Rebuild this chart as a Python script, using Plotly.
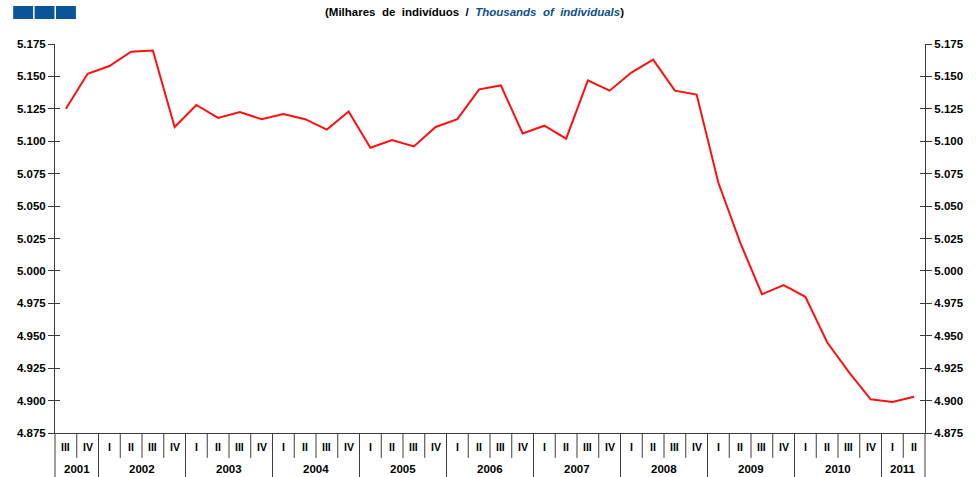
import plotly.graph_objects as go

# quarters from 2001 III to 2011 II
quarters = ["III", "IV",
            "I", "II", "III", "IV",
            "I", "II", "III", "IV",
            "I", "II", "III", "IV",
            "I", "II", "III", "IV",
            "I", "II", "III", "IV",
            "I", "II", "III", "IV",
            "I", "II", "III", "IV",
            "I", "II", "III", "IV",
            "I", "II", "III", "IV",
            "I", "II"]
years = ["2001", "2002", "2003", "2004", "2005", "2006",
         "2007", "2008", "2009", "2010", "2011"]

employed = [5.125, 5.152,
            5.158, 5.169, 5.170, 5.111,
            5.128, 5.118, 5.1225, 5.117,
            5.121, 5.117, 5.109, 5.123,
            5.095, 5.101, 5.096, 5.111,
            5.117, 5.140, 5.143, 5.106,
            5.112, 5.102, 5.147, 5.139,
            5.153, 5.163, 5.139, 5.136,
            5.068, 5.022, 4.982, 4.989,
            4.980, 4.945, 4.922, 4.901,
            4.899, 4.903]

y_ticks = [4.875, 4.900, 4.925, 4.950, 4.975, 5.000, 5.025,
           5.050, 5.075, 5.100, 5.125, 5.150, 5.175]

x_idx = list(range(len(quarters)))

# which year each point belongs to
year_of = []
yi = 0
for i, q in enumerate(quarters):
    if q == "I" and i > 0:
        yi += 1
    year_of.append(years[yi])

axis_col = "#3c3c3c"
font_b = dict(family="Arial, Liberation Sans", size=11.5, color="black", weight="bold")

fig = go.Figure()
fig.add_trace(go.Scatter(x=x_idx, y=employed, mode="lines",
                         line=dict(color="#ff1010", width=2),
                         showlegend=False, hoverinfo="skip"))
# ghost trace so right axis gets drawn
fig.add_trace(go.Scatter(x=x_idx, y=employed, yaxis="y2", mode="lines",
                         line=dict(width=0), opacity=0,
                         showlegend=False, hoverinfo="skip"))

yax = dict(range=[y_ticks[0], y_ticks[-1]], tickvals=y_ticks,
           tickformat=".3f", showgrid=False, zeroline=False,
           showline=True, linecolor=axis_col, linewidth=1,
           ticks="outside", ticklen=6, tickcolor=axis_col,
           tickfont=font_b)

fig.update_layout(
    width=976, height=477,
    margin=dict(l=55, r=47, t=44, b=44),
    paper_bgcolor="white", plot_bgcolor="white",
    xaxis=dict(range=[-0.5, len(quarters) - 0.5], showticklabels=False,
               showgrid=False, zeroline=False, ticks="",
               showline=True, linecolor=axis_col, linewidth=1),
    yaxis=dict(**yax, side="left"),
    yaxis2=dict(**yax, side="right", overlaying="y", matches="y"),
    yaxis3=dict(range=[y_ticks[0], y_ticks[-1]], tickvals=y_ticks,
                showticklabels=False, showgrid=False, zeroline=False,
                showline=False, ticks="inside", ticklen=5,
                tickcolor=axis_col, overlaying="y", side="left"),
    yaxis4=dict(range=[y_ticks[0], y_ticks[-1]], tickvals=y_ticks,
                showticklabels=False, showgrid=False, zeroline=False,
                showline=False, ticks="inside", ticklen=5,
                tickcolor=axis_col, overlaying="y", side="right"),
)
fig.add_trace(go.Scatter(x=[0], y=[employed[0]], yaxis="y3", opacity=0,
                         showlegend=False, hoverinfo="skip"))
fig.add_trace(go.Scatter(x=[0], y=[employed[0]], yaxis="y4", opacity=0,
                         showlegend=False, hoverinfo="skip"))

# quarter labels and separators
for i, q in enumerate(quarters):
    fig.add_annotation(x=i, y=-0.036, xref="x", yref="paper", text=q,
                       showarrow=False, font=dict(font_b, size=10.5),
                       yanchor="middle")
    if i > 0:
        is_year = q == "I"
        fig.add_shape(type="line", xref="x", yref="paper",
                      x0=i - 0.5, x1=i - 0.5, y0=0,
                      y1=-0.12 if is_year else -0.064,
                      line=dict(color=axis_col, width=1))

# outer edges down to bottom
for xe in [0, 1]:
    fig.add_shape(type="line", xref="paper", yref="paper",
                  x0=xe, x1=xe, y0=0, y1=-0.12,
                  line=dict(color=axis_col, width=1))

# year labels centred under their quarters
for yr in years:
    pos = [i for i, y in enumerate(year_of) if y == yr]
    fig.add_annotation(x=(pos[0] + pos[-1]) / 2, y=-0.092, xref="x",
                       yref="paper", text=yr, showarrow=False,
                       font=font_b, yanchor="middle")

# title
fig.add_annotation(
    x=(476 - 55) / 874, y=(433 - 12) / 389, xref="paper", yref="paper",
    text="(Milhares  de  indivíduos  /  <i><span style='color:#0b4f8c'>"
         "Thousands  of  individuals</span></i>)",
    showarrow=False, font=dict(family="Arial, Liberation Sans", size=11.5,
                               color="black", weight="bold"),
    yanchor="middle")

# blue header blocks
for k in range(3):
    x0 = 13 + k * 21.5
    fig.add_shape(type="rect", xref="paper", yref="paper",
                  x0=(x0 - 55) / 874, x1=(x0 + 20 - 55) / 874,
                  y0=(433 - 19) / 389, y1=(433 - 6) / 389,
                  fillcolor="#0a5599", line=dict(width=0))

fig.write_html("out.html", config={"displayModeBar": False},
               post_script="document.body.style.margin='0';")
